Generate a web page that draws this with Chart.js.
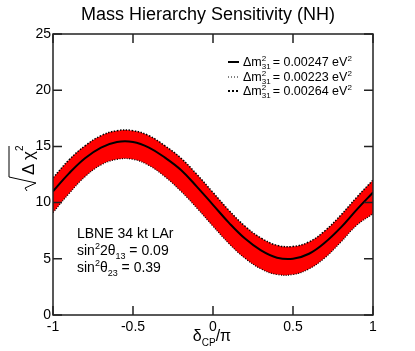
<!DOCTYPE html>
<html>
<head>
<meta charset="utf-8">
<script src="https://cdn.jsdelivr.net/npm/chart.js@4"></script>
<style>
  body { margin: 0; background: #fff; }
  #wrap { width: 415px; height: 351px; position: relative; }
</style>
</head>
<body>
<div id="wrap"><canvas id="mhChart"></canvas></div>
<script>
// delta_CP / pi sample points
const deltaCP = [-1, -0.9, -0.8, -0.7, -0.6, -0.5, -0.4, -0.3, -0.2, -0.1, 0,
                 0.1, 0.2, 0.3, 0.4, 0.5, 0.6, 0.7, 0.8, 0.9, 1];
// sqrt(delta chi^2), dm31 = 0.00247 (solid)
const central = [11.0, 12.6, 13.95, 14.9, 15.4, 15.4, 14.9, 14.0, 12.9, 11.4, 9.8,
                 8.2, 6.8, 5.75, 5.1, 5.0, 5.45, 6.45, 7.8, 9.4, 10.9];
// dm31 = 0.00264 (upper edge of band)
const upper = [12.2, 13.8, 15.05, 15.95, 16.4, 16.4, 15.95, 15.05, 13.95, 12.5, 10.9,
               9.3, 7.9, 6.85, 6.2, 6.1, 6.5, 7.5, 8.9, 10.5, 12.0];
// dm31 = 0.00223 (lower edge of band)
const lower = [9.1, 10.8, 12.3, 13.35, 13.85, 13.85, 13.3, 12.3, 11.0, 9.5, 7.9,
               6.35, 5.05, 4.1, 3.6, 3.6, 4.1, 5.1, 6.5, 8.0, 9.0];

const xTicks = [-1, -0.5, 0, 0.5, 1];
const yTicks = [0, 5, 10, 15, 20, 25];
const legendLabels = ["0.00247", "0.00223", "0.00264"];

const FONT = "'Liberation Sans', Arial, Helvetica, sans-serif";

function pts(arr) {
  return deltaCP.map((x, i) => ({ x: x, y: arr[i] }));
}

// draws the frame, inward ticks, titles, legend and the text box
const decorPlugin = {
  id: "decor",
  afterDraw(chart) {
    const ctx = chart.ctx;
    const a = chart.chartArea;
    const xs = chart.scales.x, ys = chart.scales.y;
    ctx.save();

    // frame + inward ticks on all sides
    ctx.strokeStyle = "#222";
    ctx.lineWidth = 1.5;
    ctx.strokeRect(a.left, a.top, a.right - a.left, a.bottom - a.top);
    ctx.beginPath();
    xTicks.forEach(v => {
      const px = xs.getPixelForValue(v);
      ctx.moveTo(px, a.bottom); ctx.lineTo(px, a.bottom - 9);
      ctx.moveTo(px, a.top); ctx.lineTo(px, a.top + 9);
    });
    yTicks.forEach(v => {
      const py = ys.getPixelForValue(v);
      ctx.moveTo(a.left, py); ctx.lineTo(a.left + 9, py);
      ctx.moveTo(a.right, py); ctx.lineTo(a.right - 9, py);
    });
    ctx.stroke();

    ctx.fillStyle = "#000";
    ctx.textBaseline = "alphabetic";

    // title
    ctx.font = "18px " + FONT;
    ctx.textAlign = "center";
    ctx.fillText("Mass Hierarchy Sensitivity (NH)", 208, 20);

    // x axis title: delta_CP / pi
    ctx.textAlign = "left";
    ctx.font = "16px " + FONT;
    const wd = ctx.measureText("\u03b4").width;
    const wp = ctx.measureText("/\u03c0").width;
    ctx.font = "10px " + FONT;
    const wcp = ctx.measureText("CP").width;
    let x0 = 212 - (wd + wcp + wp) / 2;
    ctx.font = "16px " + FONT;
    ctx.fillText("\u03b4", x0, 341);
    ctx.font = "10px " + FONT;
    ctx.fillText("CP", x0 + wd, 346);
    ctx.font = "16px " + FONT;
    ctx.fillText("/\u03c0", x0 + wd + wcp, 341);

    // y axis title: sqrt(delta chi^2), rotated
    ctx.save();
    ctx.rotate(-Math.PI / 2);
    // local (lx, ly) = (-screenY, screenX)
    ctx.strokeStyle = "#000";
    ctx.lineWidth = 1;
    ctx.beginPath();
    ctx.moveTo(-191, 27);
    ctx.lineTo(-188, 25);
    ctx.lineTo(-183, 36);
    ctx.lineTo(-177, 9);
    ctx.lineTo(-146, 9);
    ctx.stroke();
    ctx.font = "17px " + FONT;
    ctx.fillText("\u0394", -175, 34);
    ctx.fillText("\u03c7", -160, 34);
    ctx.font = "10px " + FONT;
    ctx.fillText("2", -151, 23);
    ctx.restore();

    // legend
    const rows = [66, 81, 95];
    const styles = [
      { w: 2, dash: [] },
      { w: 1, dash: [1, 2] },
      { w: 2, dash: [2, 2] }
    ];
    rows.forEach((ry, i) => {
      ctx.save();
      ctx.strokeStyle = "#000";
      ctx.lineWidth = styles[i].w;
      ctx.setLineDash(styles[i].dash);
      ctx.beginPath();
      ctx.moveTo(228, ry - 4);
      ctx.lineTo(239, ry - 4);
      ctx.stroke();
      ctx.restore();
      let x = 243;
      ctx.font = "12.5px " + FONT;
      ctx.fillText("\u0394m", x, ry);
      x += ctx.measureText("\u0394m").width;
      ctx.font = "8px " + FONT;
      ctx.fillText("2", x, ry - 5);
      ctx.fillText("31", x, ry + 3);
      x += ctx.measureText("31").width + 2;
      ctx.font = "12.5px " + FONT;
      const s = "= " + legendLabels[i] + " eV";
      ctx.fillText(s, x, ry);
      x += ctx.measureText(s).width;
      ctx.font = "8px " + FONT;
      ctx.fillText("2", x, ry - 5);
    });

    // text box
    ctx.font = "14px " + FONT;
    ctx.fillText("LBNE 34 kt LAr", 77, 238);
    let tx = 77;
    ctx.fillText("sin", tx, 255); tx += ctx.measureText("sin").width;
    ctx.font = "9px " + FONT;
    ctx.fillText("2", tx, 249); tx += ctx.measureText("2").width;
    ctx.font = "14px " + FONT;
    ctx.fillText("2\u03b8", tx, 255); tx += ctx.measureText("2\u03b8").width;
    ctx.font = "9px " + FONT;
    ctx.fillText("13", tx, 259); tx += ctx.measureText("13").width;
    ctx.font = "14px " + FONT;
    ctx.fillText(" = 0.09", tx, 255);

    tx = 77;
    ctx.fillText("sin", tx, 272); tx += ctx.measureText("sin").width;
    ctx.font = "9px " + FONT;
    ctx.fillText("2", tx, 266); tx += ctx.measureText("2").width;
    ctx.font = "14px " + FONT;
    ctx.fillText("\u03b8", tx, 272); tx += ctx.measureText("\u03b8").width;
    ctx.font = "9px " + FONT;
    ctx.fillText("23", tx, 276); tx += ctx.measureText("23").width;
    ctx.font = "14px " + FONT;
    ctx.fillText(" = 0.39", tx, 272);

    ctx.restore();
  }
};

const ctx = document.getElementById("mhChart").getContext("2d");
const chart = new Chart(ctx, {
  type: "line",
  data: {
    datasets: [
      {
        label: "0.00247",
        data: pts(central),
        borderColor: "#000",
        borderWidth: 2,
        pointRadius: 0,
        tension: 0.4,
        fill: false
      },
      {
        label: "0.00264",
        data: pts(upper),
        borderColor: "#000",
        borderWidth: 1.5,
        borderDash: [1.5, 1.5],
        pointRadius: 0,
        tension: 0.4,
        backgroundColor: "#ff0000",
        fill: "+1"
      },
      {
        label: "0.00223",
        data: pts(lower),
        borderColor: "#000",
        borderWidth: 1.2,
        borderDash: [1, 1.5],
        pointRadius: 0,
        tension: 0.4,
        fill: false
      }
    ]
  },
  options: {
    responsive: true,
    maintainAspectRatio: false,
    animation: false,
    layout: { padding: { top: 34, right: 42, left: 0, bottom: 0 } },
    plugins: {
      legend: { display: false },
      tooltip: { enabled: false },
      filler: { drawTime: "beforeDatasetsDraw" }
    },
    scales: {
      x: {
        type: "linear",
        min: -1,
        max: 1,
        grid: { display: false, drawTicks: false },
        border: { display: false },
        afterBuildTicks: s => { s.ticks = xTicks.map(v => ({ value: v })); },
        afterFit: s => { s.height = 36; },
        ticks: {
          padding: 4,
          color: "#000",
          maxRotation: 0,
          font: { family: FONT, size: 14 },
          callback: v => String(v)
        }
      },
      y: {
        min: 0,
        max: 25,
        grid: { display: false, drawTicks: false },
        border: { display: false },
        afterBuildTicks: s => { s.ticks = yTicks.map(v => ({ value: v })); },
        afterFit: s => { s.width = 53; },
        ticks: {
          padding: 2,
          color: "#000",
          font: { family: FONT, size: 14 },
          callback: v => String(v)
        }
      }
    }
  },
  plugins: [decorPlugin]
});
</script>
</body>
</html>
